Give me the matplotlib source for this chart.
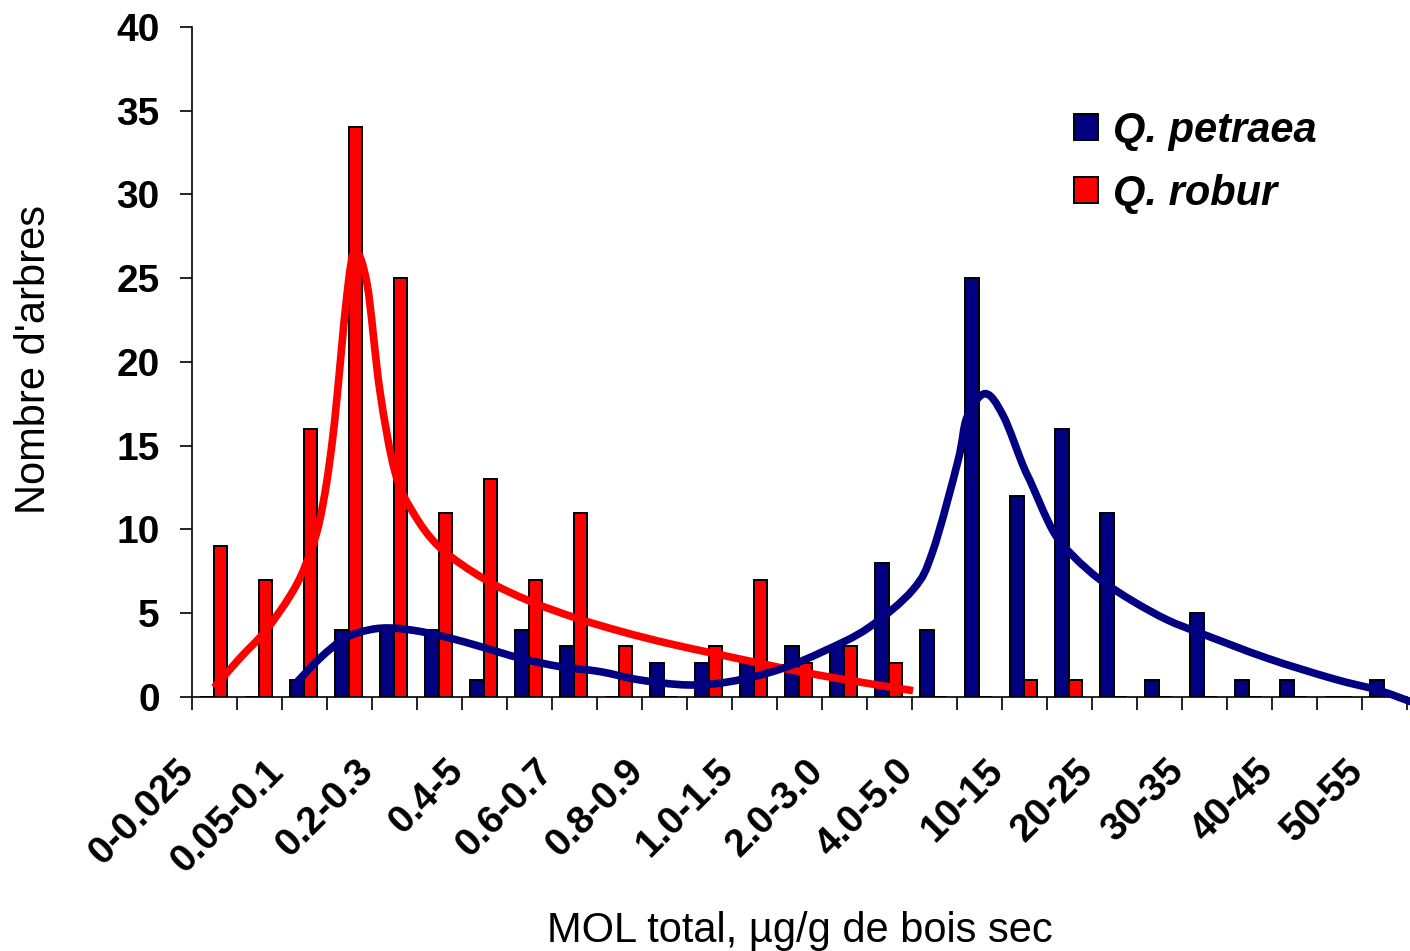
import numpy as np
import matplotlib
matplotlib.use("Agg")
import matplotlib.pyplot as plt
from matplotlib.path import Path
from matplotlib.patches import PathPatch, Patch
from matplotlib.transforms import blended_transform_factory, offset_copy

plt.rcParams['font.family'] = ['Liberation Sans', 'DejaVu Sans']

# classes de MOL total (µg/g de bois sec)
categories = ['0-0.025', '0.025-0.05', '0.05-0.1', '0.1-0.2', '0.2-0.3', '0.3-0.4',
              '0.4-5', '0.5-0.6', '0.6-0.7', '0.7-0.8', '0.8-0.9', '0.9-1.0',
              '1.0-1.5', '1.5-2.0', '2.0-3.0', '3.0-4.0', '4.0-5.0', '5.0-10',
              '10-15', '15-20', '20-25', '25-30', '30-35', '35-40',
              '40-45', '45-50', '50-55']

# nombre d'arbres par classe
petraea = [0, 0, 1, 4, 4, 4, 1, 4, 3, 0, 2, 2, 2, 3, 3, 8, 4, 25,
           12, 16, 11, 1, 5, 1, 1, 0, 1]
robur = [9, 7, 16, 34, 25, 11, 13, 7, 11, 3, 0, 3, 7, 2, 3, 2, 0, 0,
         1, 1, 0, 0, 0, 0, 0, 0, 0]

# courbes lissées (position en classes, nombre d'arbres)
robur_curve_x = [0.0, 0.57, 1.13, 1.68, 2.02, 2.35, 2.64, 2.95, 3.13, 3.40, 3.68,
                 4.02, 4.42, 5.02, 6.02, 7.02, 8.04, 9.04, 10.06, 11.08, 12.12,
                 13.02, 14.06, 15.53]
robur_curve_y = [0.55, 2.3, 3.9, 6.0, 7.8, 10.6, 15.6, 24.0, 26.6, 24.6, 18.3,
                 13.4, 11.0, 8.9, 7.0, 5.7, 4.7, 3.9, 3.2, 2.6, 2.0, 1.5, 1.0, 0.36]
petraea_curve_x = [1.78, 2.35, 2.91, 3.46, 3.95, 4.57, 5.24, 5.91, 6.80, 7.68,
                   8.57, 9.46, 10.53, 11.46, 12.53, 13.53, 14.53, 15.53, 15.97,
                   16.53, 16.73, 17.13, 17.53, 17.96, 18.13, 18.64, 19.09, 19.68,
                   20.42, 21.17, 21.91, 23.40, 24.87, 25.90, 26.79]
petraea_curve_y = [0.7, 2.3, 3.5, 4.0, 4.1, 3.9, 3.5, 3.0, 2.3, 1.8, 1.5, 1.0,
                   0.7, 0.9, 1.6, 2.7, 4.1, 6.4, 8.7, 14.1, 16.7, 18.1, 16.8,
                   13.9, 12.9, 9.9, 8.4, 7.0, 5.7, 4.6, 3.8, 2.3, 1.07, 0.36, -0.5]

blue = '#000080'
red = '#FF0000'


def smooth_path(xs, ys):
    # courbe de Bezier passant par les points (lissage type Excel)
    pts = np.column_stack([xs, ys]).astype(float)
    n = len(pts)
    verts = [pts[0]]
    codes = [Path.MOVETO]
    for i in range(n - 1):
        p0 = pts[i - 1] if i > 0 else pts[i]
        p1 = pts[i]
        p2 = pts[i + 1]
        p3 = pts[i + 2] if i + 2 < n else pts[i + 1]
        verts += [p1 + (p2 - p0) / 6.0, p2 - (p3 - p1) / 6.0, p2]
        codes += [Path.CURVE4] * 3
    return Path(verts, codes)


W, H = 1410, 951
fig = plt.figure(figsize=(W / 100, H / 100), dpi=100)
x0, x1, ytop, ybot = 191.7, 1406.7, 27.0, 696.7
ax = fig.add_axes([x0 / W, 1 - ybot / H, (x1 - x0) / W, (ybot - ytop) / H])

x = np.arange(len(categories))
bw = 0.31
ax.bar(x - 0.155, petraea, width=bw, color=blue, edgecolor='black', linewidth=1.4, zorder=2)
ax.bar(x + 0.145, robur, width=bw - 0.01, color=red, edgecolor='black', linewidth=1.4, zorder=2)

ax.add_patch(PathPatch(smooth_path(robur_curve_x, robur_curve_y), facecolor='none',
                       edgecolor=red, linewidth=5.5, capstyle='butt', zorder=3))
ax.add_patch(PathPatch(smooth_path(petraea_curve_x, petraea_curve_y), facecolor='none',
                       edgecolor=blue, linewidth=5.5, capstyle='butt', zorder=4,
                       clip_on=False))

ax.set_xlim(-0.5, len(categories) - 0.5)
ax.set_ylim(0, 40)
for s in ['top', 'right']:
    ax.spines[s].set_visible(False)
for s in ['left', 'bottom']:
    ax.spines[s].set_linewidth(1.2)

ax.set_yticks(range(0, 41, 5))
ax.tick_params(axis='y', direction='out', length=9, width=1.2, pad=14, labelsize=28)
for lab in ax.get_yticklabels():
    lab.set_fontweight('bold')

ax.set_xticks(np.arange(-0.5, len(categories), 1.0))
ax.set_xticklabels([])
ax.tick_params(axis='x', direction='out', length=9.4, width=1.2)

trans = offset_copy(blended_transform_factory(ax.transData, ax.transAxes),
                    fig=fig, x=-26, y=-69, units='dots')
for i in range(0, len(categories), 2):
    ax.text(i, 0, categories[i], transform=trans, rotation=45, ha='right', va='center',
            rotation_mode='anchor', fontsize=28, fontweight='bold')

fig.text(800 / W, 1 - 942 / H, 'MOL total, µg/g de bois sec', ha='center',
         va='baseline', fontsize=30)
fig.text(34 / W, 1 - 360 / H, "Nombre d'arbres", rotation=90, ha='center',
         va='center', fontsize=30)

handles = [Patch(facecolor=blue, edgecolor='black', linewidth=1.4),
           Patch(facecolor=red, edgecolor='black', linewidth=1.4)]
leg = fig.legend(handles, ['Q. petraea', 'Q. robur'], loc='upper left',
                 bbox_to_anchor=(1074 / W, 1 - 111 / H), frameon=False,
                 prop={'size': 30, 'weight': 'bold', 'style': 'italic'},
                 handlelength=0.58, handleheight=0.58, handletextpad=0.36,
                 labelspacing=0.55, borderpad=0, borderaxespad=0)

fig.savefig('out.png', dpi=100)
